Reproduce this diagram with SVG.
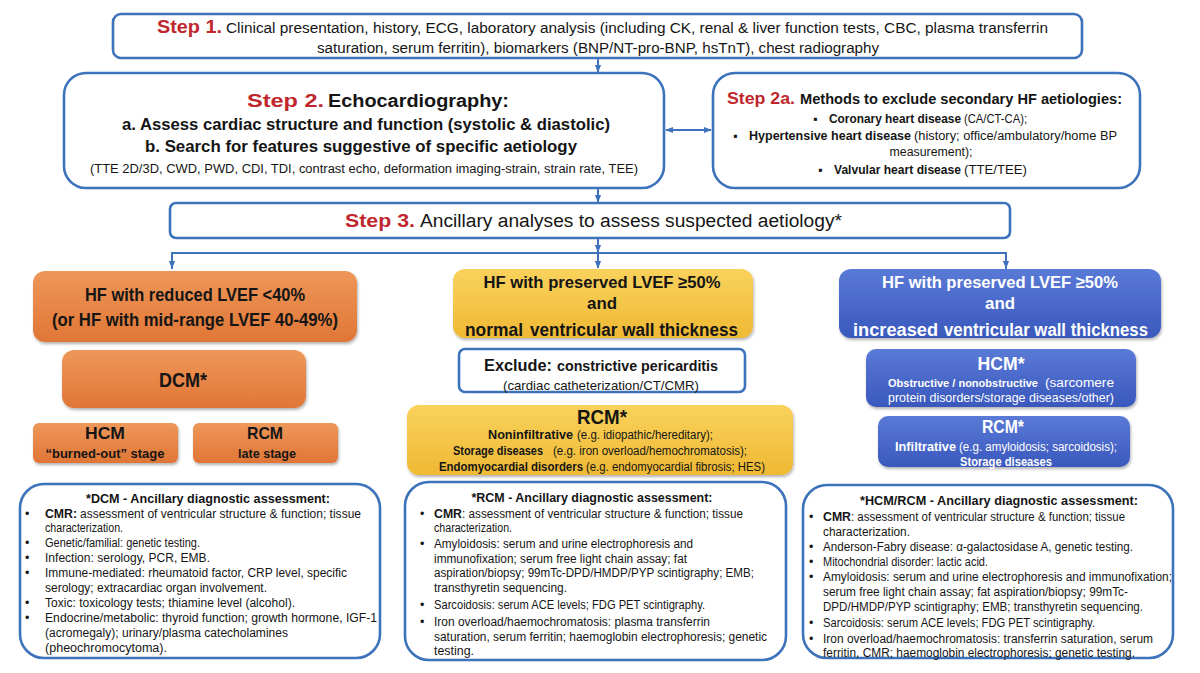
<svg xmlns="http://www.w3.org/2000/svg" width="1200" height="673" viewBox="0 0 1200 673">
<defs>
<style>
text{font-family:"Liberation Sans",Arial,sans-serif;fill:#151515}
.b{font-weight:bold}
.red{fill:#c0272d;font-weight:bold}
.w{fill:#fff}
.m{text-anchor:middle}
.box{fill:#fff;stroke:#3d73bb;stroke-width:2.6}
.conn{stroke:#3d73bb;stroke-width:2;fill:none}
</style>
<marker id="ah" viewBox="0 0 10 10" refX="9" refY="5" markerWidth="8" markerHeight="8" markerUnits="userSpaceOnUse" orient="auto-start-reverse"><path d="M0,1 L10,5 L0,9 z" fill="#3d73bb"/></marker>
<linearGradient id="gO" x1="0" y1="0" x2="0" y2="1"><stop offset="0" stop-color="#ee975a"/><stop offset="1" stop-color="#e07636"/></linearGradient>
<linearGradient id="gY" x1="0" y1="0" x2="0" y2="1"><stop offset="0" stop-color="#f9d25c"/><stop offset="1" stop-color="#efb934"/></linearGradient>
<linearGradient id="gB" x1="0" y1="0" x2="0" y2="1"><stop offset="0" stop-color="#5a7ad6"/><stop offset="1" stop-color="#3a58bd"/></linearGradient>
<filter id="sh" x="-5%" y="-10%" width="110%" height="130%"><feDropShadow dx="1" dy="2" stdDeviation="1.5" flood-color="#000" flood-opacity="0.3"/></filter>
</defs>
<rect width="1200" height="673" fill="#fff"/>

<g id="connectors">
<line class="conn" x1="598" y1="59" x2="598" y2="72" marker-end="url(#ah)"/>
<line class="conn" x1="666" y1="130" x2="711" y2="130" marker-start="url(#ah)" marker-end="url(#ah)"/>
<line class="conn" x1="598" y1="189" x2="598" y2="202" marker-end="url(#ah)"/>
<line class="conn" x1="598" y1="239" x2="598" y2="252" marker-end="url(#ah)"/>
<polyline class="conn" points="172,269 172,253 1006,253 1006,269"/>
<line class="conn" x1="172" y1="253" x2="172" y2="268" marker-end="url(#ah)"/>
<line class="conn" x1="598" y1="253" x2="598" y2="268" marker-end="url(#ah)"/>
<line class="conn" x1="1006" y1="253" x2="1006" y2="268" marker-end="url(#ah)"/>
</g>

<g id="step1">
<rect class="box" x="113" y="14" width="969" height="44" rx="8"/>
<text x="157" y="33" font-size="18" class="red" textLength="65" lengthAdjust="spacingAndGlyphs">Step 1.</text>
<text x="226" y="33" font-size="14" textLength="822" lengthAdjust="spacingAndGlyphs">Clinical presentation, history, ECG, laboratory analysis (including CK, renal &amp; liver function tests, CBC, plasma transferrin</text>
<text x="598" y="53" font-size="14" class="m" textLength="562" lengthAdjust="spacingAndGlyphs">saturation, serum ferritin), biomarkers (BNP/NT-pro-BNP, hsTnT), chest radiography</text>
</g>

<g id="step2">
<rect class="box" x="64" y="73" width="600" height="115" rx="22"/>
<text x="247" y="107" class="red" font-size="19" textLength="77" lengthAdjust="spacingAndGlyphs">Step 2.</text>
<text x="328" y="107" class="b" font-size="17.5" textLength="181" lengthAdjust="spacingAndGlyphs">Echocardiography:</text>
<text x="366" y="130" class="m b" font-size="17" textLength="488" lengthAdjust="spacingAndGlyphs">a. Assess cardiac structure and function (systolic &amp; diastolic)</text>
<text x="361" y="152" class="m b" font-size="17" textLength="432" lengthAdjust="spacingAndGlyphs">b. Search for features suggestive of specific aetiology</text>
<text x="364" y="173" class="m" font-size="12.5" textLength="548" lengthAdjust="spacingAndGlyphs">(TTE 2D/3D, CWD, PWD,  CDI, TDI, contrast echo, deformation imaging-strain, strain rate, TEE)</text>
</g>

<g id="step2a">
<rect class="box" x="713" y="73" width="427" height="115" rx="22"/>
<text x="727" y="104" class="red" font-size="16.5" textLength="68" lengthAdjust="spacingAndGlyphs">Step 2a.</text>
<text x="800" y="104" class="b" font-size="15" textLength="322" lengthAdjust="spacingAndGlyphs">Methods to exclude secondary HF aetiologies:</text>
<text x="813" y="123" font-size="12.5">▪</text>
<text x="829" y="123" class="b" font-size="12.5" textLength="132" lengthAdjust="spacingAndGlyphs">Coronary heart disease</text>
<text x="964" y="123" font-size="12.5" textLength="63" lengthAdjust="spacingAndGlyphs">(CA/CT-CA);</text>
<text x="733" y="140" font-size="12.5">▪</text>
<text x="749" y="140" class="b" font-size="12.5" textLength="162" lengthAdjust="spacingAndGlyphs">Hypertensive heart disease</text>
<text x="914" y="140" font-size="12.5" textLength="203" lengthAdjust="spacingAndGlyphs">(history; office/ambulatory/home BP</text>
<text x="931" y="156" class="m" font-size="12.5" textLength="83" lengthAdjust="spacingAndGlyphs">measurement);</text>
<text x="818" y="174" font-size="12.5">▪</text>
<text x="834" y="174" class="b" font-size="12.5" textLength="127" lengthAdjust="spacingAndGlyphs">Valvular heart disease</text>
<text x="964" y="174" font-size="12.5" textLength="63" lengthAdjust="spacingAndGlyphs">(TTE/TEE)</text>
</g>

<g id="step3">
<rect class="box" x="170" y="203" width="840" height="35" rx="6"/>
<text x="345" y="227" class="red" font-size="19" textLength="70" lengthAdjust="spacingAndGlyphs">Step 3.</text>
<text x="420" y="227" font-size="18" textLength="422" lengthAdjust="spacingAndGlyphs">Ancillary analyses to assess suspected aetiology*</text>
</g>

<g id="hf-reduced">
<rect x="33" y="271" width="324" height="71" rx="12" fill="url(#gO)" filter="url(#sh)"/>
<text x="195" y="301" class="m b" font-size="18" textLength="220" lengthAdjust="spacingAndGlyphs">HF with reduced LVEF &lt;40%</text>
<text x="195" y="326" class="m b" font-size="18" textLength="286" lengthAdjust="spacingAndGlyphs">(or HF with mid-range LVEF 40-49%)</text>
</g>
<g id="dcm">
<rect x="62" y="350" width="244" height="58" rx="12" fill="url(#gO)" filter="url(#sh)"/>
<text x="183" y="387" class="m b" font-size="20" textLength="48" lengthAdjust="spacingAndGlyphs">DCM*</text>
</g>
<g id="hcm-burned">
<rect x="33" y="423" width="145" height="40" rx="6" fill="url(#gO)" filter="url(#sh)"/>
<text x="105" y="439" class="m b" font-size="17" textLength="40" lengthAdjust="spacingAndGlyphs">HCM</text>
<text x="105" y="458" class="m b" font-size="12.5" textLength="119" lengthAdjust="spacingAndGlyphs">“burned-out”  stage</text>
</g>
<g id="rcm-late">
<rect x="193" y="423" width="145" height="40" rx="6" fill="url(#gO)" filter="url(#sh)"/>
<text x="265" y="439" class="m b" font-size="17" textLength="36" lengthAdjust="spacingAndGlyphs">RCM</text>
<text x="267" y="458" class="m b" font-size="12.5" textLength="58" lengthAdjust="spacingAndGlyphs">late stage</text>
</g>

<g id="hf-preserved-normal">
<rect x="453" y="269" width="300" height="69" rx="12" fill="url(#gY)" filter="url(#sh)"/>
<text x="602" y="288" class="m b" font-size="17" textLength="237" lengthAdjust="spacingAndGlyphs">HF with preserved LVEF ≥50%</text>
<text x="602" y="309" class="m b" font-size="17" textLength="30" lengthAdjust="spacingAndGlyphs">and</text>
<text x="465" y="336" class="b" font-size="19" textLength="58" lengthAdjust="spacingAndGlyphs">normal</text>
<text x="530" y="336" class="b" font-size="18" textLength="208" lengthAdjust="spacingAndGlyphs">ventricular wall thickness</text>
</g>
<g id="exclude">
<rect class="box" x="459" y="349" width="286" height="43" rx="6"/>
<text x="484" y="371" class="b" font-size="17" textLength="68" lengthAdjust="spacingAndGlyphs">Exclude:</text>
<text x="557" y="371" class="b" font-size="15.5" textLength="161" lengthAdjust="spacingAndGlyphs">constrictive pericarditis</text>
<text x="601" y="390" class="m" font-size="13" textLength="196" lengthAdjust="spacingAndGlyphs">(cardiac catheterization/CT/CMR)</text>
</g>
<g id="rcm-mid">
<rect x="407" y="405" width="386" height="70" rx="12" fill="url(#gY)" filter="url(#sh)"/>
<text x="602" y="424" class="m b" font-size="20" textLength="50" lengthAdjust="spacingAndGlyphs">RCM*</text>
<text x="488" y="439" class="b" font-size="12" textLength="85" lengthAdjust="spacingAndGlyphs">Noninfiltrative</text>
<text x="577" y="439" font-size="12" textLength="136" lengthAdjust="spacingAndGlyphs">(e.g. idiopathic/hereditary);</text>
<text x="453" y="455" class="b" font-size="12" textLength="90" lengthAdjust="spacingAndGlyphs">Storage diseases</text>
<text x="553" y="455" font-size="12" textLength="194" lengthAdjust="spacingAndGlyphs">(e.g. iron overload/hemochromatosis);</text>
<text x="439" y="471" class="b" font-size="12" textLength="144" lengthAdjust="spacingAndGlyphs">Endomyocardial disorders</text>
<text x="586" y="471" font-size="12" textLength="179" lengthAdjust="spacingAndGlyphs">(e.g. endomyocardial fibrosis; HES)</text>
</g>

<g id="hf-preserved-increased">
<rect x="839" y="269" width="322" height="69" rx="12" fill="url(#gB)" filter="url(#sh)"/>
<text x="1000" y="288" class="m b w" font-size="17" textLength="236" lengthAdjust="spacingAndGlyphs">HF with preserved LVEF ≥50%</text>
<text x="1000" y="309" class="m b w" font-size="17" textLength="30" lengthAdjust="spacingAndGlyphs">and</text>
<text x="853" y="336" class="b w" font-size="18.8" textLength="85" lengthAdjust="spacingAndGlyphs">increased</text>
<text x="944" y="336" class="b w" font-size="18" textLength="204" lengthAdjust="spacingAndGlyphs">ventricular wall thickness</text>
</g>
<g id="hcm-right">
<rect x="866" y="349" width="270" height="58" rx="10" fill="url(#gB)" filter="url(#sh)"/>
<text x="1001" y="370" class="m b w" font-size="18" textLength="47" lengthAdjust="spacingAndGlyphs">HCM*</text>
<text x="888" y="387" class="b w" font-size="11.3" textLength="150" lengthAdjust="spacingAndGlyphs">Obstructive / nonobstructive</text>
<text x="1045" y="387" class="w" font-size="12.5" textLength="69" lengthAdjust="spacingAndGlyphs">(sarcomere</text>
<text x="1001" y="402" class="m w" font-size="12.5" textLength="226" lengthAdjust="spacingAndGlyphs">protein disorders/storage diseases/other)</text>
</g>
<g id="rcm-right">
<rect x="878" y="416" width="252" height="51" rx="10" fill="url(#gB)" filter="url(#sh)"/>
<text x="1003" y="433" class="m b w" font-size="18" textLength="42" lengthAdjust="spacingAndGlyphs">RCM*</text>
<text x="895" y="451" class="b w" font-size="12.5" textLength="61" lengthAdjust="spacingAndGlyphs">Infiltrative</text>
<text x="959" y="451" class="w" font-size="12.5" textLength="158" lengthAdjust="spacingAndGlyphs">(e.g. amyloidosis; sarcoidosis);</text>
<text x="1006" y="466" class="m b w" font-size="12.5" textLength="92" lengthAdjust="spacingAndGlyphs">Storage diseases</text>
</g>

<g id="dcm-assessment">
<rect class="box" x="20" y="484" width="360" height="174" rx="24"/>
<text x="208" y="503" class="m b" font-size="13.5" textLength="244" lengthAdjust="spacingAndGlyphs">*DCM - Ancillary diagnostic assessment:</text>
<g font-size="12.5">
<text x="25" y="518">•</text><text x="45" y="518" class="b" textLength="32" lengthAdjust="spacingAndGlyphs">CMR:</text><text x="80" y="518" textLength="281" lengthAdjust="spacingAndGlyphs">assessment of ventricular structure &amp; function; tissue</text>
<text x="45" y="532" textLength="78" lengthAdjust="spacingAndGlyphs">characterization.</text>
<text x="25" y="547">•</text><text x="45" y="547" textLength="155" lengthAdjust="spacingAndGlyphs">Genetic/familial: genetic testing.</text>
<text x="25" y="562">•</text><text x="45" y="562" textLength="165" lengthAdjust="spacingAndGlyphs">Infection: serology, PCR, EMB.</text>
<text x="25" y="577">•</text><text x="45" y="577" textLength="302" lengthAdjust="spacingAndGlyphs">Immune-mediated: rheumatoid factor, CRP level, specific</text>
<text x="45" y="592" textLength="222" lengthAdjust="spacingAndGlyphs">serology; extracardiac organ involvement.</text>
<text x="25" y="607">•</text><text x="45" y="607" textLength="250" lengthAdjust="spacingAndGlyphs">Toxic: toxicology tests; thiamine level (alcohol).</text>
<text x="25" y="622">•</text><text x="45" y="622" textLength="332" lengthAdjust="spacingAndGlyphs">Endocrine/metabolic: thyroid function; growth hormone, IGF-1</text>
<text x="45" y="637" textLength="243" lengthAdjust="spacingAndGlyphs">(acromegaly); urinary/plasma catecholamines</text>
<text x="45" y="652" textLength="122" lengthAdjust="spacingAndGlyphs">(pheochromocytoma).</text>
</g>
</g>

<g id="rcm-assessment">
<rect class="box" x="405" y="482" width="381" height="178" rx="24"/>
<text x="592" y="502" class="m b" font-size="13.5" textLength="241" lengthAdjust="spacingAndGlyphs">*RCM - Ancillary diagnostic assessment:</text>
<g font-size="12.5">
<text x="420" y="518">•</text><text x="434" y="518" class="b" textLength="28" lengthAdjust="spacingAndGlyphs">CMR</text><text x="462" y="518" textLength="281" lengthAdjust="spacingAndGlyphs">: assessment of ventricular structure &amp; function; tissue</text>
<text x="434" y="532" textLength="78" lengthAdjust="spacingAndGlyphs">characterization.</text>
<text x="420" y="548">•</text><text x="434" y="548" textLength="259" lengthAdjust="spacingAndGlyphs">Amyloidosis: serum and urine electrophoresis and</text>
<text x="434" y="563" textLength="253" lengthAdjust="spacingAndGlyphs">immunofixation; serum free light chain assay; fat</text>
<text x="434" y="577" textLength="320" lengthAdjust="spacingAndGlyphs">aspiration/biopsy; 99mTc-DPD/HMDP/PYP scintigraphy; EMB;</text>
<text x="434" y="592" textLength="133" lengthAdjust="spacingAndGlyphs">transthyretin sequencing.</text>
<text x="420" y="609">•</text><text x="434" y="609" textLength="271" lengthAdjust="spacingAndGlyphs">Sarcoidosis: serum ACE levels; FDG PET scintigraphy.</text>
<text x="420" y="626">•</text><text x="434" y="626" textLength="276" lengthAdjust="spacingAndGlyphs">Iron overload/haemochromatosis: plasma transferrin</text>
<text x="434" y="641" textLength="333" lengthAdjust="spacingAndGlyphs">saturation, serum ferritin; haemoglobin electrophoresis; genetic</text>
<text x="434" y="655" textLength="40" lengthAdjust="spacingAndGlyphs">testing.</text>
</g>
</g>

<g id="hcm-rcm-assessment">
<rect class="box" x="803" y="485" width="370" height="173" rx="24"/>
<text x="999" y="505" class="m b" font-size="13.5" textLength="278" lengthAdjust="spacingAndGlyphs">*HCM/RCM - Ancillary diagnostic assessment:</text>
<g font-size="12.5">
<text x="809" y="521">•</text><text x="823" y="521" class="b" textLength="28" lengthAdjust="spacingAndGlyphs">CMR</text><text x="851" y="521" textLength="274" lengthAdjust="spacingAndGlyphs">: assessment of ventricular structure &amp; function; tissue</text>
<text x="823" y="536" textLength="87" lengthAdjust="spacingAndGlyphs">characterization.</text>
<text x="809" y="551">•</text><text x="823" y="551" textLength="310" lengthAdjust="spacingAndGlyphs">Anderson-Fabry disease: α-galactosidase A, genetic testing.</text>
<text x="809" y="566">•</text><text x="823" y="566" textLength="165" lengthAdjust="spacingAndGlyphs">Mitochondrial disorder:  lactic acid.</text>
<text x="809" y="581">•</text><text x="823" y="581" textLength="349" lengthAdjust="spacingAndGlyphs">Amyloidosis: serum and urine electrophoresis and immunofixation;</text>
<text x="823" y="596" textLength="305" lengthAdjust="spacingAndGlyphs">serum free light chain assay; fat aspiration/biopsy; 99mTc-</text>
<text x="823" y="611" textLength="320" lengthAdjust="spacingAndGlyphs">DPD/HMDP/PYP scintigraphy; EMB; transthyretin sequencing.</text>
<text x="809" y="627">•</text><text x="823" y="627" textLength="272" lengthAdjust="spacingAndGlyphs">Sarcoidosis: serum ACE levels; FDG PET scintigraphy.</text>
<text x="809" y="643">•</text><text x="823" y="643" textLength="330" lengthAdjust="spacingAndGlyphs">Iron overload/haemochromatosis: transferrin saturation, serum</text>
<text x="823" y="657" textLength="312" lengthAdjust="spacingAndGlyphs">ferritin, CMR; haemoglobin electrophoresis; genetic testing.</text>
</g>
</g>
</svg>
